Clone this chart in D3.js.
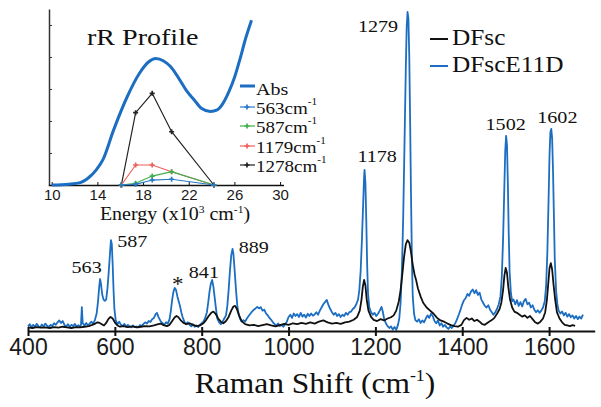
<!DOCTYPE html>
<html lang="en">
<head>
<meta charset="UTF-8" />
<script src="https://d3js.org/d3.v7.min.js"></script>
<style>
  body { margin: 0; background: #fff; }
  svg { display: block; }
</style>
</head>
<body>
<svg width="601" height="407"></svg>
<script>
// ---- main spectra: [Raman shift cm-1, intensity (arb.)]
var dfscE11D = [
  [400,0.5],[404,1.2],[408,0.3],[412,1.0],[416,0.4],[420,1.3],[424,0.6],[428,0.2],[432,1.1],[436,0.5],
  [440,1.4],[444,0.7],[448,0.3],[452,1.0],[456,0.6],[460,1.5],[464,1.0],[468,1.8],[472,2.4],[476,1.6],
  [480,2.2],[484,1.0],[488,0.5],[492,1.2],[496,0.4],[500,1.0],[504,0.6],[508,1.3],[512,0.5],[516,0.9],
  [520,0.4],[522,1.0],[524,6.6],[526,1.5],[530,0.8],[534,1.6],[538,0.9],[542,1.4],[546,2.0],[550,1.3],
  [554,2.5],[558,4.5],[561,8.0],[564,13.0],[566,15.5],[568,14.0],[571,10.5],[574,9.0],[577,8.6],[580,9.0],
  [583,12.5],[586,18.0],[589,24.0],[591,27.8],[593,26.5],[595,20.0],[597,12.0],[599,6.0],[602,2.5],[606,1.2],
  [610,2.0],[614,1.0],[618,0.6],[622,1.3],[626,0.4],[630,1.0],[634,0.5],[638,0.2],[642,0.8],[646,0.3],
  [650,0.5],[654,0.2],[658,0.9],[662,0.6],[666,1.3],[670,1.8],[674,1.4],[678,2.2],[682,1.9],[686,2.8],
  [690,3.2],[694,4.4],[697,4.8],[700,3.6],[703,2.8],[706,2.0],[710,1.5],[714,1.0],[718,1.8],[722,1.4],
  [726,2.8],[729,5.5],[732,9.0],[735,11.5],[738,12.7],[741,12.0],[744,10.0],[747,8.5],[750,7.0],[753,5.0],
  [756,3.5],[760,2.0],[764,1.2],[768,1.8],[772,1.0],[776,0.5],[780,1.2],[784,0.4],[788,0.8],[792,0.3],
  [796,1.0],[800,1.5],[804,2.0],[808,3.2],[812,5.0],[815,8.0],[818,11.5],[821,14.0],[824,15.2],[827,13.0],
  [830,9.5],[833,6.0],[836,3.0],[840,1.8],[844,1.2],[848,2.0],[852,3.0],[856,4.0],[859,7.0],[862,12.0],
  [865,18.0],[868,23.0],[871,25.0],[873,23.5],[876,18.0],[879,12.0],[882,7.0],[885,4.5],[888,3.0],[892,2.0],
  [896,2.5],[900,2.0],[904,3.0],[908,3.8],[912,4.5],[916,5.2],[920,5.8],[924,6.2],[928,6.7],[932,6.2],
  [936,6.6],[940,5.5],[944,5.8],[948,4.6],[952,4.0],[956,3.2],[960,2.6],[964,1.8],[968,1.2],[972,0.8],
  [976,1.4],[980,0.6],[984,1.0],[988,0.4],[992,1.2],[996,2.0],[1000,3.5],[1004,4.2],[1008,3.2],[1012,4.6],
  [1016,3.8],[1020,4.4],[1024,3.5],[1028,4.8],[1032,3.6],[1036,4.2],[1040,3.3],[1044,4.5],[1048,3.8],[1052,4.6],
  [1056,3.9],[1060,4.3],[1064,5.0],[1068,4.2],[1072,5.5],[1076,6.5],[1080,7.5],[1084,8.2],[1088,8.9],[1092,7.2],
  [1096,6.0],[1100,5.0],[1104,4.2],[1108,4.8],[1112,3.8],[1116,4.4],[1120,3.5],[1124,4.2],[1128,3.8],[1132,4.8],
  [1136,4.2],[1140,5.0],[1144,5.2],[1148,6.0],[1152,6.5],[1156,7.5],[1160,9.0],[1163,12.0],[1166,18.0],[1169,28.0],
  [1172,40.0],[1174,48.0],[1175,50.0],[1177,46.0],[1179,34.0],[1181,20.0],[1183,11.0],[1186,6.5],[1190,5.0],[1194,4.2],
  [1198,4.8],[1202,3.8],[1206,4.5],[1210,5.5],[1214,6.7],[1217,5.2],[1220,3.0],[1224,1.5],[1228,0.6],[1232,0.0],
  [1236,0.5],[1240,-0.5],[1244,0.3],[1248,-0.6],[1252,1.0],[1255,3.0],[1258,8.0],[1261,18.0],[1264,35.0],[1267,58.0],
  [1270,82.0],[1272,95.0],[1274,100],[1276,98],[1278,86],[1280,65],[1282,42],[1284,22],[1286,10],[1289,4.5],
  [1292,2.5],[1296,2.0],[1300,2.8],[1304,1.6],[1308,2.4],[1312,1.8],[1316,3.0],[1320,4.0],[1324,3.2],[1328,4.5],
  [1332,3.8],[1336,2.2],[1340,1.5],[1344,2.4],[1348,0.8],[1352,1.5],[1356,0.4],[1360,1.0],[1364,0.2],[1368,-0.3],
  [1372,0.5],[1376,0.0],[1380,0.8],[1384,1.5],[1388,2.8],[1392,4.2],[1396,5.8],[1400,7.5],[1404,8.8],[1408,9.5],
  [1412,10.8],[1416,10.2],[1420,11.5],[1424,12.2],[1428,11.0],[1432,12.0],[1436,10.5],[1440,11.2],[1444,9.0],[1448,8.0],
  [1452,7.0],[1456,6.5],[1460,7.2],[1464,5.8],[1468,5.0],[1472,4.2],[1476,5.0],[1480,6.0],[1484,7.5],[1488,10.0],
  [1491,16.0],[1494,28.0],[1497,45.0],[1499,56.0],[1501,60.8],[1503,58.0],[1505,46.0],[1507,30.0],[1509,18.0],[1512,11.0],
  [1515,8.5],[1518,9.0],[1522,7.5],[1526,8.8],[1530,7.0],[1534,8.2],[1538,6.8],[1542,8.5],[1546,9.2],[1550,7.5],
  [1554,8.0],[1558,6.5],[1562,7.2],[1566,5.8],[1570,5.0],[1574,5.6],[1578,4.8],[1582,5.5],[1586,6.5],[1590,8.5],
  [1593,13.0],[1596,24.0],[1599,42.0],[1601,55.0],[1603,62.0],[1605,63.0],[1607,60.0],[1609,50.0],[1611,36.0],[1613,22.0],
  [1616,12.0],[1619,7.5],[1622,5.5],[1626,4.6],[1630,5.2],[1634,4.0],[1638,4.8],[1642,3.6],[1646,4.4],[1650,3.4],
  [1654,4.0],[1658,3.0],[1662,3.8],[1666,2.8],[1670,3.6],[1674,3.0],[1678,4.2]
];

var dfsc = [
  [400,0.2],[410,0.0],[420,0.3],[430,0.1],[440,0.2],[450,0.0],[460,0.3],[470,0.1],[480,0.4],[490,0.2],
  [500,0.0],[510,0.3],[520,0.2],[530,0.4],[540,0.6],[548,1.0],[555,1.4],[560,1.8],[565,1.6],[570,1.2],
  [575,0.8],[580,1.6],[585,2.8],[590,3.5],[595,3.0],[600,1.8],[606,0.8],[612,0.4],[620,0.6],[630,0.3],
  [640,0.5],[650,0.2],[660,0.4],[670,0.6],[680,0.5],[690,0.8],[700,1.2],[706,1.4],[712,0.9],[720,0.6],
  [726,1.0],[732,2.2],[738,3.4],[742,3.8],[746,3.5],[752,2.4],[758,1.6],[765,1.2],[772,1.5],[780,1.0],
  [788,0.6],[796,0.8],[804,1.5],[810,2.5],[816,3.8],[822,4.8],[827,5.2],[832,4.5],[838,3.0],[844,2.0],
  [850,1.5],[856,2.2],[862,3.5],[868,5.5],[873,6.8],[877,7.0],[881,6.0],[886,4.0],[892,2.2],[900,1.2],
  [910,0.8],[920,1.0],[930,0.6],[940,0.9],[950,1.2],[960,0.8],[970,0.5],[980,0.9],[990,1.3],[1000,1.0],
  [1010,1.5],[1020,1.2],[1030,1.6],[1040,1.3],[1050,1.8],[1060,1.4],[1070,2.0],[1080,2.4],[1090,1.8],[1100,1.4],
  [1110,1.6],[1120,1.3],[1130,1.8],[1140,2.0],[1150,2.6],[1158,3.5],[1164,5.5],[1168,9.0],[1171,13.0],[1174,15.2],
  [1177,13.5],[1180,9.0],[1184,5.5],[1190,3.5],[1196,2.6],[1204,2.2],[1212,2.8],[1220,2.4],[1228,3.0],[1236,3.4],
  [1242,4.0],[1248,5.5],[1254,8.5],[1258,12.0],[1262,17.0],[1266,22.5],[1270,26.5],[1274,27.8],[1278,27.0],[1282,24.0],
  [1286,20.0],[1290,17.0],[1294,15.0],[1298,12.5],[1304,10.0],[1310,8.0],[1318,6.5],[1326,5.5],[1334,4.5],[1342,3.2],
  [1350,2.4],[1358,2.0],[1366,1.4],[1374,0.9],[1382,0.6],[1390,0.4],[1398,1.0],[1404,2.5],[1410,3.2],[1416,2.6],
  [1422,3.0],[1428,2.2],[1434,2.6],[1440,2.0],[1446,1.2],[1452,1.0],[1460,1.8],[1468,2.5],[1474,3.2],[1480,4.5],
  [1486,6.0],[1490,8.0],[1494,12.0],[1497,16.5],[1500,19.0],[1503,17.5],[1506,13.0],[1510,9.0],[1515,6.5],[1520,5.2],
  [1526,4.8],[1532,4.2],[1538,3.6],[1544,4.0],[1550,3.2],[1556,3.8],[1562,2.8],[1568,1.8],[1574,1.4],[1580,2.0],
  [1586,3.0],[1591,5.0],[1595,9.0],[1598,14.0],[1601,19.0],[1604,20.5],[1607,18.5],[1610,14.0],[1614,9.0],[1618,5.0],
  [1624,3.0],[1630,1.8],[1636,1.0],[1642,0.8],[1648,0.6],[1654,0.9],[1660,0.7]
];

var ramanTicks = [400, 600, 800, 1000, 1200, 1400, 1600];

// peak labels: [text, shift position of label centre, intensity of label baseline]
var peakLabels = [
  ["563", 535, 17.4], ["587", 640, 25.6], ["*", 745, 11.8], ["841", 805, 15.8], ["889", 920, 23.7],
  ["1178", 1204, 52.5], ["1279", 1206, 93.7], ["1502", 1500, 62.7], ["1602", 1619, 64.9]
];

// ---- inset: rR profile
var absProfile = [
  [10.0,0],[11.5,0.005],[12.5,0.015],[13.3,0.05],[13.9,0.095],[14.5,0.16],[15.4,0.34],[16.6,0.55],
  [17.7,0.70],[18.5,0.77],[19.1,0.79],[19.8,0.775],[20.4,0.74],[21.1,0.67],[21.8,0.59],[22.5,0.53],
  [23.1,0.48],[23.9,0.46],[24.5,0.47],[25.0,0.51],[25.5,0.58],[26.0,0.67],[26.5,0.79],[27.0,0.92],[27.5,1.03]
];
var excitation = [16.1, 17.35, 18.8, 20.5, 24.2];
var ep563 = [0, 0.004, 0.031, 0.036, 0];
var ep587 = [0, 0.011, 0.056, 0.083, 0];
var ep1179 = [0, 0.125, 0.125, 0.083, 0];
var ep1278 = [0, 0.452, 0.573, 0.333, 0];
var energyTicks = [10, 14, 18, 22, 26, 30];

var svg = d3.select("svg");
var serif = "'Liberation Serif', 'Times New Roman', serif";
var sans = "'Liberation Sans', Arial, sans-serif";
var blue = "#1b6ec2";

// stretched serif text helper
function label(txt, x, y, size, sx, anchor) {
  return svg.append("text")
    .attr("transform", "translate(" + x + "," + y + ") scale(" + sx + ",1)")
    .attr("font-family", serif)
    .attr("font-size", size)
    .attr("text-anchor", anchor || "start")
    .attr("fill", "#111")
    .text(txt);
}

// ---------- main chart
var x = d3.scaleLinear().domain([400, 1705]).range([28, 594.7]);
var y = d3.scaleLinear().domain([0, 100]).range([328, 12]);

var line = d3.line()
  .x(function (d) { return x(d[0]); })
  .y(function (d) { return y(d[1]); });

svg.append("path").datum(dfscE11D)
  .attr("d", line).attr("fill", "none")
  .attr("stroke", blue).attr("stroke-width", 1.8).attr("stroke-linejoin", "round");

svg.append("path").datum(dfsc)
  .attr("d", line).attr("fill", "none")
  .attr("stroke", "#111").attr("stroke-width", 1.8).attr("stroke-linejoin", "round");

var xAxis = svg.append("g")
  .attr("transform", "translate(0,331)")
  .call(d3.axisBottom(x).tickValues(ramanTicks).tickSizeOuter(0).tickFormat(d3.format("d")));
xAxis.select(".domain").attr("stroke", "#111").attr("stroke-width", 2);
xAxis.selectAll(".tick line").attr("y1", -4).attr("y2", 5).attr("stroke", "#111").attr("stroke-width", 2);
xAxis.selectAll(".tick text")
  .attr("y", 24).attr("dy", 0)
  .attr("font-family", sans).attr("font-size", 23).attr("fill", "#1a1a1a");

var title = label("Raman Shift (cm", 315, 393, 30, 1.05, "middle");
title.append("tspan").attr("font-size", 17).attr("dy", -12).text("-1");
title.append("tspan").attr("dy", 12).text(")");

peakLabels.forEach(function (p) {
  label(p[0], x(p[1]), y(p[2]), p[0] === "*" ? 20 : 17.5, 1.15, "middle");
});

// main legend
[["DFsc", "#111", 45], ["DFscE11D", blue, 72]].forEach(function (l) {
  svg.append("line")
    .attr("x1", 430).attr("x2", 448).attr("y1", l[2] - 6).attr("y2", l[2] - 6)
    .attr("stroke", l[1]).attr("stroke-width", 2);
  label(l[0], 452, l[2], 23, 1.1);
});

// ---------- inset
var ex = d3.scaleLinear().domain([9.7, 30.3]).range([48.3, 283.5]);
var ey = d3.scaleLinear().domain([0, 1.1]).range([185, 9]);

var inY = svg.append("g").attr("transform", "translate(49,0)")
  .call(d3.axisLeft(ey).tickValues([0.2, 0.4, 0.6, 0.8, 1.0]).tickSizeInner(-3).tickSizeOuter(0).tickFormat(""));
inY.select(".domain").attr("stroke", "#333").attr("stroke-width", 1.5);
inY.selectAll(".tick line").attr("stroke", "#333");

var inX = svg.append("g").attr("transform", "translate(0,185)")
  .call(d3.axisBottom(ex).tickValues(energyTicks).tickSizeInner(-3).tickSizeOuter(0).tickPadding(4));
inX.select(".domain").attr("stroke", "#111").attr("stroke-width", 1.5);
inX.selectAll(".tick line").attr("stroke", "#111");
inX.selectAll(".tick text")
  .attr("font-family", sans).attr("font-size", 15).attr("fill", "#1a1a1a");

var eLabel = label("Energy (x10", 175, 220, 19, 1.05, "middle");
eLabel.append("tspan").attr("font-size", 11).attr("dy", -7).text("3");
eLabel.append("tspan").attr("dy", 7).text(" cm");
eLabel.append("tspan").attr("font-size", 11).attr("dy", -7).text("-1");
eLabel.append("tspan").attr("dy", 7).text(")");

label("rR Profile", 87, 45, 23, 1.22);

svg.append("path").datum(absProfile)
  .attr("d", d3.line().curve(d3.curveMonotoneX)
    .x(function (d) { return ex(d[0]); })
    .y(function (d) { return ey(d[1]); }))
  .attr("fill", "none").attr("stroke", blue).attr("stroke-width", 3);

var profiles = [
  { name: "1278", vals: ep1278, color: "#222" },
  { name: "1179", vals: ep1179, color: "#f0605a" },
  { name: "587", vals: ep587, color: "#3fb04c" },
  { name: "563", vals: ep563, color: "#2a78c8" }
];

var pline = d3.line()
  .x(function (d, i) { return ex(excitation[i]); })
  .y(function (d) { return ey(d); });

profiles.forEach(function (p) {
  svg.append("path").datum(p.vals)
    .attr("d", pline).attr("fill", "none")
    .attr("stroke", p.color).attr("stroke-width", 1.2);
  svg.append("g").selectAll("path")
    .data(p.vals).enter().append("path")
    .attr("d", d3.symbol().type(d3.symbolCross).size(14))
    .attr("transform", function (d, i) { return "translate(" + ex(excitation[i]) + "," + ey(d) + ")"; })
    .attr("fill", p.color);
});

// inset legend
svg.append("line").attr("x1", 240).attr("x2", 255).attr("y1", 86).attr("y2", 86)
  .attr("stroke", blue).attr("stroke-width", 3);
label("Abs", 256, 95, 17, 1.18);

[["563", "#2a78c8", 114], ["587", "#3fb04c", 133], ["1179", "#f0605a", 153], ["1278", "#222", 172]].forEach(function (l) {
  svg.append("line").attr("x1", 240).attr("x2", 255).attr("y1", l[2] - 7).attr("y2", l[2] - 7)
    .attr("stroke", l[1]).attr("stroke-width", 1.2);
  svg.append("path").attr("d", d3.symbol().type(d3.symbolCross).size(14))
    .attr("transform", "translate(247," + (l[2] - 7) + ")").attr("fill", l[1]);
  var t = label(l[0] + "cm", 256, l[2], 17, 1.12);
  t.append("tspan").attr("font-size", 10).attr("dy", -9).text("-1");
});
</script>
</body>
</html>
